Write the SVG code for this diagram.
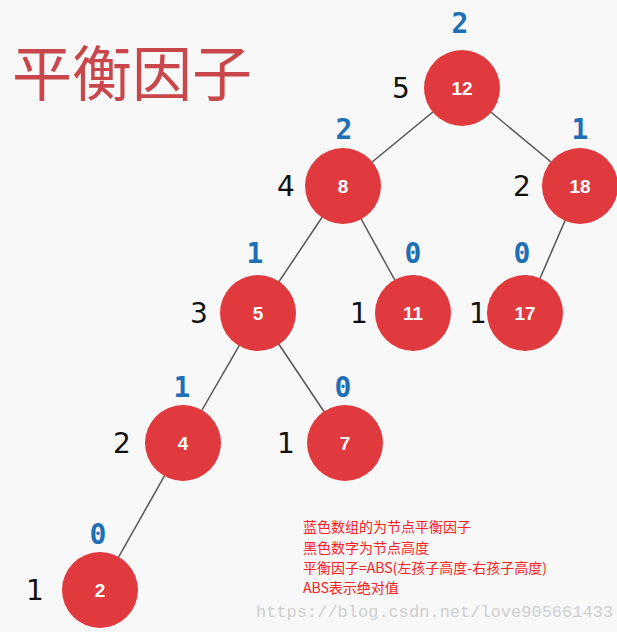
<svg xmlns="http://www.w3.org/2000/svg" width="617" height="632" viewBox="0 0 617 632">
<style>
.n circle{fill:#e0393e}
.n text{fill:#fff;font:bold 19px "Liberation Sans",sans-serif;text-anchor:middle}
.h{fill:#111;font:28px "DejaVu Sans",sans-serif;text-anchor:middle}
.b{fill:#1f6fb5;font:bold 28px "DejaVu Sans Mono",monospace;text-anchor:middle}
.note{fill:#ff2020;font:14px "Noto Sans CJK SC",sans-serif}
</style>
<rect width="617" height="632" fill="#f8f8f8"/>
<text x="12" y="96" font-family="Noto Sans CJK SC, sans-serif" font-size="60" fill="#c9464a">平衡因子</text>
<g id="edges" stroke="#555" stroke-width="1.5">
<line x1="462" y1="88" x2="343" y2="186"/><line x1="462" y1="88" x2="580" y2="186"/>
<line x1="343" y1="186" x2="258" y2="313"/><line x1="343" y1="186" x2="413" y2="313"/>
<line x1="580" y1="186" x2="525" y2="313"/>
<line x1="258" y1="313" x2="183" y2="443"/><line x1="258" y1="313" x2="345" y2="443"/>
<line x1="183" y1="443" x2="100" y2="590"/>
</g>
<g id="n12" class="n"><circle cx="462" cy="88" r="38"/><text x="462" y="95">12</text></g>
<g id="n8" class="n"><circle cx="343" cy="186" r="38"/><text x="343" y="193">8</text></g>
<g id="n18" class="n"><circle cx="580" cy="186" r="38"/><text x="580" y="193">18</text></g>
<g id="n5" class="n"><circle cx="258" cy="313" r="38"/><text x="258" y="320">5</text></g>
<g id="n11" class="n"><circle cx="413" cy="313" r="38"/><text x="413" y="320">11</text></g>
<g id="n17" class="n"><circle cx="525" cy="313" r="38"/><text x="525" y="320">17</text></g>
<g id="n4" class="n"><circle cx="183" cy="443" r="38"/><text x="183" y="450">4</text></g>
<g id="n7" class="n"><circle cx="345" cy="443" r="38"/><text x="345" y="450">7</text></g>
<g id="n2" class="n"><circle cx="100" cy="590" r="38"/><text x="100" y="597">2</text></g>
<g id="heights">
<text class="h" x="401" y="98">5</text><text class="h" x="286" y="196">4</text><text class="h" x="522" y="196">2</text>
<text class="h" x="199" y="323">3</text><text class="h" x="359" y="323">1</text><text class="h" x="478" y="323">1</text>
<text class="h" x="122" y="453">2</text><text class="h" x="286" y="453">1</text><text class="h" x="35" y="600">1</text>
</g>
<g id="factors">
<text class="b" x="460" y="33">2</text><text class="b" x="344" y="139">2</text><text class="b" x="580" y="139">1</text>
<text class="b" x="255" y="263">1</text><text class="b" x="413" y="263">0</text><text class="b" x="522" y="263">0</text>
<text class="b" x="182" y="397">1</text><text class="b" x="343" y="397">0</text><text class="b" x="98" y="544">0</text>
</g>
<g id="notes">
<text class="note" x="303" y="532">蓝色数组的为节点平衡因子</text>
<text class="note" x="303" y="553">黑色数字为节点高度</text>
<text class="note" x="303" y="573">平衡因子=ABS(左孩子高度-右孩子高度)</text>
<text class="note" x="303" y="593">ABS表示绝对值</text>
<text x="256" y="617" font-family="Liberation Mono, monospace" font-size="17" fill="#cfcfcf">https://blog.csdn.net/love905661433</text>
</g>
</svg>
